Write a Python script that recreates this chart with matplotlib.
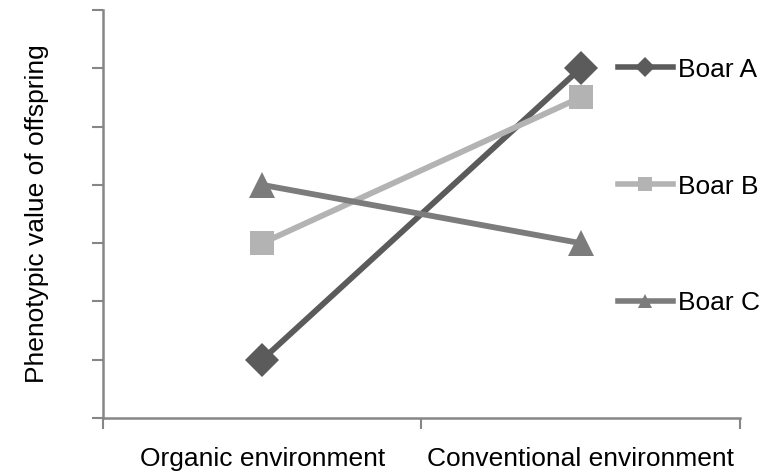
import matplotlib.pyplot as plt
from matplotlib.lines import Line2D

plt.rcParams['font.family'] = ['Liberation Sans', 'DejaVu Sans']

envs = ['Organic environment', 'Conventional environment']
boars = ['Boar A', 'Boar B', 'Boar C']
boar_a = [1, 6]
boar_b = [3, 5.5]
boar_c = [4, 3]

colors = ['#5b5b5b', '#b3b3b3', '#7c7c7c']
markers = ['D', 's', '^']
sizes = [17, 17, 19]

fig = plt.figure(figsize=(7.62, 4.74), dpi=100)
ax = fig.add_axes([0.135, 0.118, 0.836, 0.861])

x = [0, 1]
for vals, c, m, s in zip([boar_a, boar_b, boar_c], colors, markers, sizes):
    ax.plot(x, vals, color=c, linewidth=4.2, marker=m, markersize=s,
            markeredgewidth=0, solid_capstyle='butt')

ax.set_xlim(-0.5, 1.5)
ax.set_ylim(0, 7)
ax.set_yticks(range(0, 8))
ax.set_yticklabels([])
ax.set_xticks([-0.5, 0.5, 1.5])
ax.set_xticklabels([])
ax.set_xticks(x, minor=True)
ax.set_xticklabels(envs, minor=True, fontsize=19)
ax.tick_params(axis='x', which='minor', length=0, pad=21)
ax.tick_params(axis='both', which='major', length=8, width=1.5, color='#868686')

for side in ['top', 'right']:
    ax.spines[side].set_visible(False)
for side in ['left', 'bottom']:
    ax.spines[side].set_color('#868686')
    ax.spines[side].set_linewidth(1.8)

ax.set_ylabel('Phenotypic value of offspring', fontsize=19, labelpad=27)

handles = [Line2D([0], [0], color=c, linewidth=4, marker=m, markersize=10,
                  markeredgewidth=0) for c, m in zip(colors, markers)]
ax.legend(handles, boars, fontsize=19, frameon=False, loc='upper left',
          bbox_to_anchor=(0.808, 0.883), handlelength=2.1, handletextpad=0.2,
          labelspacing=3.52, borderaxespad=0, borderpad=0)

plt.savefig('out.png', dpi=100)
